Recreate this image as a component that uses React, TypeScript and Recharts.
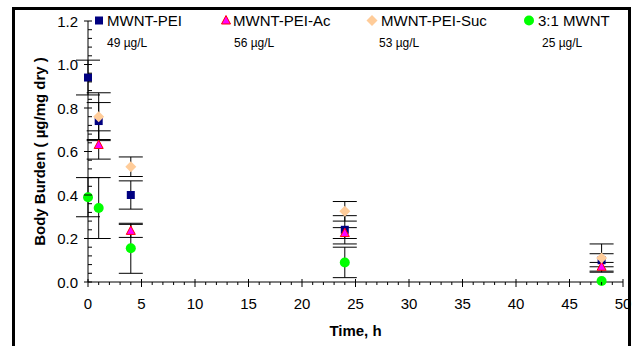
import React from "react";
import { ScatterChart, Scatter, XAxis, YAxis, ErrorBar, Legend } from "recharts";

const FONT = "Arial, 'Liberation Sans', Helvetica, sans-serif";

// axis ticks
const X_MAJOR = [0, 5, 10, 15, 20, 25, 30, 35, 40, 45, 50];
const Y_MAJOR = [0, 0.2, 0.4, 0.6, 0.8, 1.0, 1.2];
const X_MINOR_STEP = 1;
const Y_MINOR_STEP = 0.04;

// MWNT-PEI
const PEI_T = [0, 1, 4, 24, 48];
const PEI_V = [0.94, 0.74, 0.4, 0.24, 0.1];
const PEI_E = [0.08, 0.085, 0.065, 0.065, 0.03];

// MWNT-PEI-Ac
const AC_T = [1, 4, 24, 48];
const AC_V = [0.63, 0.235, 0.225, 0.07];
const AC_E = [0.065, 0.03, 0.025, 0.02];

// MWNT-PEI-Suc
const SUC_T = [1, 4, 24, 48];
const SUC_V = [0.76, 0.53, 0.325, 0.11];
const SUC_E = [0.11, 0.045, 0.045, 0.065];

// 3:1 MWNT
const MWNT_T = [0, 1, 4, 24, 48];
const MWNT_V = [0.39, 0.34, 0.155, 0.09, 0.005];
const MWNT_E = [0.09, 0.14, 0.115, 0.07, 0];

const SERIES_NAMES = ["MWNT-PEI", "MWNT-PEI-Ac", "MWNT-PEI-Suc", "3:1 MWNT"];
const CONCENTRATIONS = ["49 µg/L", "56 µg/L", "53 µg/L", "25 µg/L"];

const toPoints = (t: number[], v: number[], e: number[]) =>
  t.map((time, i) => ({ t: time, v: v[i], err: e[i] }));

const SERIES = [
  { name: SERIES_NAMES[0], conc: CONCENTRATIONS[0], kind: "square", data: toPoints(PEI_T, PEI_V, PEI_E) },
  { name: SERIES_NAMES[1], conc: CONCENTRATIONS[1], kind: "triangle", data: toPoints(AC_T, AC_V, AC_E) },
  { name: SERIES_NAMES[2], conc: CONCENTRATIONS[2], kind: "diamond", data: toPoints(SUC_T, SUC_V, SUC_E) },
  { name: SERIES_NAMES[3], conc: CONCENTRATIONS[3], kind: "circle", data: toPoints(MWNT_T, MWNT_V, MWNT_E) },
];

const xTicks = Array.from({ length: 51 }, (_, i) => i * X_MINOR_STEP);
const yTicks = Array.from({ length: 31 }, (_, i) => +(i * Y_MINOR_STEP).toFixed(2));

function marker(kind: string, cx: number, cy: number) {
  switch (kind) {
    case "square":
      return <rect x={cx - 4} y={cy - 4} width={8} height={8} fill="#000080" />;
    case "triangle":
      return (
        <polygon
          points={`${cx},${cy - 5} ${cx + 4.5},${cy + 3.5} ${cx - 4.5},${cy + 3.5}`}
          fill="#FF00FF"
          stroke="#FF0000"
          strokeWidth={1}
        />
      );
    case "diamond":
      return (
        <polygon
          points={`${cx},${cy - 5.5} ${cx + 5.5},${cy} ${cx},${cy + 5.5} ${cx - 5.5},${cy}`}
          fill="#FFCC99"
        />
      );
    default:
      return <circle cx={cx} cy={cy} r={5} fill="#00FF00" />;
  }
}

function XTick(props: any) {
  const { x, y, payload } = props;
  const v = payload.value;
  const major = X_MAJOR.includes(v);
  return (
    <g>
      <line x1={x} x2={x} y1={major ? y - 3 : y} y2={major ? y + 5 : y + 3} stroke="#000" />
      {major && (
        <text x={x} y={y + 21} textAnchor="middle" dominantBaseline="central" fontSize={15} fontFamily={FONT} fill="#000">
          {v}
        </text>
      )}
    </g>
  );
}

function YTick(props: any) {
  const { x, y, payload } = props;
  const v = payload.value;
  const major = Y_MAJOR.some((m) => Math.abs(m - v) < 1e-6);
  return (
    <g>
      <line x1={major ? x - 4 : x} x2={x + 4} y1={y} y2={y} stroke="#000" />
      {major && (
        <text x={x - 10} y={y} textAnchor="end" dominantBaseline="central" fontSize={15} fontFamily={FONT} fill="#000">
          {v.toFixed(1)}
        </text>
      )}
    </g>
  );
}

// legend layout: marker centre, label start
const LEGEND_POS = [
  { mx: 99, tx: 107 },
  { mx: 226, tx: 233 },
  { mx: 372, tx: 381 },
  { mx: 529, tx: 538 },
];
const CONC_X = [107, 234, 379, 542];

function renderLegend(props: any) {
  const payload = props.payload || [];
  return (
    <svg width={634} height={56} style={{ display: "block" }}>
      {payload.map((entry: any) => {
        const idx = SERIES.findIndex((s) => s.name === entry.value);
        if (idx < 0) return null;
        const s = SERIES[idx];
        const p = LEGEND_POS[idx];
        return (
          <g key={s.name}>
            {marker(s.kind, p.mx, 20.5)}
            <text x={p.tx} y={20.5} dominantBaseline="central" fontSize={15} fontFamily={FONT} fill="#000">
              {s.name}
            </text>
            <text x={CONC_X[idx]} y={43} dominantBaseline="central" fontSize={12} fontFamily={FONT} fill="#000">
              {s.conc}
            </text>
          </g>
        );
      })}
    </svg>
  );
}

export default function App() {
  return (
    <div style={{ position: "absolute", left: 0, top: 0, width: 634, height: 346, overflow: "hidden", background: "#fff" }}>
      <div
        style={{
          position: "absolute",
          left: 12,
          top: 7,
          width: 619,
          height: 360,
          border: "3px solid #000",
          boxSizing: "border-box",
        }}
      />
      <div style={{ position: "absolute", left: 0, top: 0 }}>
        <ScatterChart width={634} height={346} margin={{ top: 21, right: 11, bottom: 34, left: 28 }}>
          <XAxis
            type="number"
            dataKey="t"
            domain={[0, 50]}
            ticks={xTicks}
            interval={0}
            tick={<XTick />}
            tickLine={false}
            tickSize={0}
            tickMargin={0}
            height={30}
            axisLine={{ stroke: "#000" }}
            allowDecimals={false}
            label={{
              content: (lp: any) => {
                const vb = lp.viewBox || {};
                return (
                  <text
                    x={vb.x + vb.width / 2}
                    y={vb.y + 48}
                    textAnchor="middle"
                    dominantBaseline="central"
                    fontSize={15}
                    fontWeight="bold"
                    fontFamily={FONT}
                    fill="#000"
                  >
                    Time, h
                  </text>
                );
              },
            }}
          />
          <YAxis
            type="number"
            dataKey="v"
            domain={[0, 1.2]}
            ticks={yTicks}
            interval={0}
            tick={<YTick />}
            tickLine={false}
            tickSize={0}
            tickMargin={0}
            width={60}
            axisLine={{ stroke: "#000" }}
            label={{
              content: (lp: any) => {
                const vb = lp.viewBox || {};
                const cx = vb.x + 11;
                const cy = vb.y + vb.height / 2;
                return (
                  <text
                    x={cx}
                    y={cy}
                    transform={`rotate(-90, ${cx}, ${cy})`}
                    textAnchor="middle"
                    dominantBaseline="central"
                    fontSize={15}
                    fontWeight="bold"
                    fontFamily={FONT}
                    fill="#000"
                  >
                    Body Burden ( µg/mg dry )
                  </text>
                );
              },
            }}
          />
          <Legend
            layout="horizontal"
            verticalAlign="middle"
            content={renderLegend}
            wrapperStyle={{ top: 0, left: 0, width: 634, height: 56 }}
          />
          {SERIES.map((s) => (
            <Scatter
              key={s.name}
              name={s.name}
              data={s.data}
              isAnimationActive={false}
              shape={(p: any) => marker(s.kind, p.cx, p.cy)}
            >
              <ErrorBar dataKey="err" direction="y" width={12} stroke="#000" strokeWidth={1} isAnimationActive={false} />
            </Scatter>
          ))}
        </ScatterChart>
      </div>
    </div>
  );
}
